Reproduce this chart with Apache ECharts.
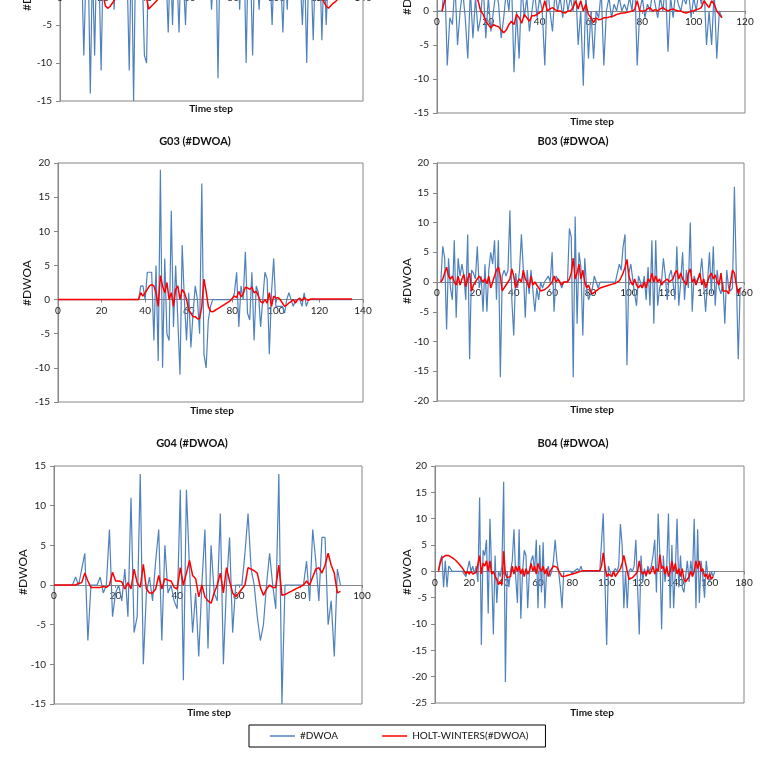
<!DOCTYPE html>
<html>
<head>
<meta charset="utf-8">
<script src="https://cdn.jsdelivr.net/npm/echarts@6/dist/echarts.min.js"></script>
<style>
html,body{margin:0;padding:0;background:#fff;overflow:hidden;width:770px;height:767px;}
#chart{position:absolute;left:0;top:-140px;width:770px;height:907px;}
</style>
</head>
<body>
<div id="chart"></div>
<script>
// ---------- DATA (index = time step) ----------
const seriesNames = ['#DWOA', 'HOLT-WINTERS(#DWOA)'];
const panelTitles = ['G02 (#DWOA)', 'B02 (#DWOA)', 'G03 (#DWOA)', 'B03 (#DWOA)', 'G04 (#DWOA)', 'B04 (#DWOA)'];
const xAxisTitle = 'Time step';
const yAxisTitle = '#DWOA';

// top-left panel (cropped)
const tlBlue = [0,0,0,0,0,0,0,0,0,0,
  3,-9,2,4,-14,3,-9,5,2,-11,
  4,1,3,2,5,-3,4,2,6,3,
  5,2,-11,6,-15,5,3,4,2,-9,
  -10,6,3,1,4,2,5,1,3,2,
  -6,4,-5,5,2,-6,5,1,-5,4,
  3,1,5,2,0,4,2,1,3,4,
  -3,2,6,-12,5,0,2,4,1,3,
  0,2,5,-3,4,6,-10,5,3,-9,
  4,2,-3,3,1,-1,4,2,-5,3,
  2,4,1,-6,3,-3,5,2,1,4,
  3,1,-5,3,-10,4,2,-7,3,2,
  4,-7,3,-5,2,1,0,1,2,1];
const tlRed = [0,0,0,0,0,0,0,0,0,0,
  0.5,-0.5,0.5,0.3,-0.5,0.5,-0.3,1,0.5,-0.5,
  -1.2,-2.5,-2.8,-2.6,-2.2,-1.8,-1,0,1,1.5,
  1,2,0,1,-1,0.5,1,1.5,0.5,-0.5,
  -1.5,-2.9,-2.6,-2.3,-2,-1.7,-1.2,-0.5,0,0.5,
  -0.5,0.5,-0.3,1,0.5,-0.5,0.5,0.3,-0.5,0.5,
  1,0.5,1,1.5,1,0.5,1,0.5,0.8,1,
  0,0.5,1,-1,0.5,0.3,0.5,1,0.5,0.8,
  0.3,0.5,1,0,0.5,1,-1,0.3,0.5,-1,
  0.3,0.5,-0.3,0.5,0.3,0,0.5,0.3,-0.5,0.3,
  0.5,0.8,0.3,-0.8,0,-0.5,0.5,0.3,0.3,0.8,
  0.5,0.3,-0.5,0.3,-1,0,0.3,-0.8,0,-0.3,
  -0.5,-1.5,-2,-2.5,-2.8,-2.5,-2.2,-2,-1.7,-1.2];

// top-right panel (cropped)
const trBlue = [0,0,0,5,-8,-1,-2,4,-5,0,
  3,-1,-7,3,-4,2,-3,-1,4,-4,
  2,-3,0,3,1,-4,-1,3,0,5,
  -9,0,-7,4,-1,2,-3,0,3,-1,
  2,0,-8,4,0,-3,3,0,2,-1,
  3,0,2,0,4,-5,0,-11,3,-7,
  0,-7,0,-1,3,-8,0,2,-1,1,
  0,2,0,1,0,2,0,5,-8,0,
  2,-1,1,0,3,1,-1,2,0,4,
  -6,2,-1,3,1,0,2,1,3,-1,
  2,0,3,1,4,-5,0,-5,3,-7,
  0,-1];
const trRed = [null,null,0,1.5,2.5,3,2.5,3,2.8,2.5,
  3,2.5,2,2.5,2,2.2,1.5,0,-0.5,-1.5,
  -2,-2.5,-2,-2.2,-2.3,-2.8,-3.2,-2.8,-2,-1.5,
  -2,-0.5,-1,-1.8,-0.5,-1,-1.5,-0.7,-0.7,-0.5,
  -0.2,0,1.5,0,0.3,0.5,0.2,0,0,-0.2,
  -0.3,0,0,0.5,1.5,0.3,1.5,0,1,-0.5,
  -1,-1.7,-1,-1.3,-1.2,-1,-1,-0.9,-0.8,-0.7,
  -0.5,-0.4,-0.3,-0.3,-0.2,-0.1,0,0.2,1.5,0,
  0,0,0.3,0.5,0,0.2,0,0.3,0.5,0.2,
  0,0.2,0.3,0.1,0,0,-0.2,-0.3,-0.2,0,
  0,0.2,0.3,0.5,1.5,1,0.5,1.5,1,0,
  -0.5,-1];

// G03
const g03Blue = [0,0,0,0,0,0,0,0,0,0,
  0,0,0,0,0,0,0,0,0,0,
  0,0,0,0,0,0,0,0,0,0,
  0,0,0,0,0,0,0,0,2,2,
  0,4,4,4,-6,5,-9,19,-10,6,
  -5,-6,13,-4,5,-3,-11,8,0,-6,
  1,-7,-2,2,0,-5,17,-8,-10,-3,
  -1,0,0,0,0,0,0,0,0,0,
  0,1,4,-4,2,0,7,-2,-3,4,
  -6,2,1,-4,0,4,3,-8,1,6,
  -1,-1,-1,-1,-2,0,1,0,-1,0,
  0,0,-1,1,-1,0,0,0,0,0,
  0,0,0,0,0,0,0,0,0,0,
  0,0,0,0,0,0];
const g03Red = [0,0,0,0,0,0,0,0,0,0,
  0,0,0,0,0,0,0,0,0,0,
  0,0,0,0,0,0,0,0,0,0,
  0,0,0,0,0,0,0,0,1,0.5,
  1,1.5,2,2.2,2,1,-1,3.5,2,1,
  2.5,0,1,-1,1.5,2,0,1.5,1,0,
  -1.5,-2,-2.5,-2.5,-2.8,-2.8,-1,3,1.2,-1,
  -1.7,-1.8,-1.6,-1.4,-1.2,-1,-0.8,-0.6,-0.4,-0.2,
  0.2,0.5,0.3,1.2,0.4,0.8,1.8,1.7,1.5,1.8,
  1,1.2,0.5,-0.3,-0.5,0,-0.5,1,-1,0.5,
  0.2,0.3,0,-0.5,-1,-0.8,-0.5,-0.3,0,-0.5,
  0,0.2,-0.2,0.3,0,-0.1,0.1,0.1,0.1,0.1,
  0.1,0.1,0.1,0.1,0.1,0.1,0.1,0.1,0.1,0.1,
  0.1,0.1,0.1,0.1,0.1,0.1];

// B03
const b03Blue = [null,null,0,6,4,-8,4,-1,-3,7,
  -6,4,1,3,1,-3,8,-13,2,1.5,
  0.5,6,-1,1,-5,3,-5,2,5,3,
  7,-3,7,-16,1,2,1,2,12,-3,
  -9,1.5,-1,2,8,2,-6,2,-2,2,
  2,-5,-1,-3,0,-1,0,0,1,0,
  5,-5,1,1,0,-1,0,0,0,9,
  7.5,-16,11,-7,5,2.5,-9,4,-1,-3,
  -2,-1,1,0,-1,0,0,0,0,0,
  0,0,0,0,0,3,2,6,8,-14,
  1.5,3,3,-2,-4,1,0,-1,1,-3,
  2.5,-4,7,-7,7,-4,-1,0,4,1,
  -3,1,2,0,-3,6,-4,0,5,-3,
  2,-1,10,-5,1,0,0,1,4,4,
  -5,-5,5,-2,6,-4,2,-1,-2,0,
  -7,2,-1,-1.5,-1,16,1,-13,-1,-1];
const b03Red = [null,null,0,0.5,1.5,2.5,1,0.5,1,0,
  -0.5,1,-0.5,0.5,1.3,-0.8,0.5,1.5,-1.5,-0.5,
  -0.5,0.5,1,0.8,0,0.5,-0.3,1,-1,0,
  1,2,2.5,1,-1.5,-1,-0.5,0,0.5,2.2,
  1,-1,0,0.5,0,2,0.5,0,-1,1,
  -0.5,0,-0.5,-1,-1.5,-1.5,-1.3,-1,-0.8,-0.5,
  0,1,0,0.5,0,-0.5,0,0.2,0,0.5,
  1.5,4,0.5,1.5,3,0.5,2,0,-1,-0.5,
  -1.5,-2,-1.8,-1.5,-1.2,-1,-0.9,-0.8,-0.7,-0.6,
  -0.5,-0.4,-0.3,-0.2,-0.1,0.2,0.8,1.5,2.5,3.8,
  1,0,-0.5,0.5,-0.5,-1,-0.5,-1,0,-1,
  0.5,0,1.5,0,1,0,0.5,-0.5,0,0.2,
  0.5,0,-0.3,0.5,1.5,2,0.5,1.5,0.5,0.2,
  -0.5,1.5,2.2,0,0.5,-0.5,0.5,1.5,-0.5,0.5,
  -1,0,1,1.5,0.5,1.2,0,-0.5,1.5,-1.5,
  -1.8,-1.5,-2,-2,2,1.5,-0.5,-2,-1];

// G04
const g04Blue = [0,0,0,0,0,0,0,1,0,2,
  4,-7,0,0,0,1,-1,0,7,-4,
  -1,0,-2,2,-4,11,-6,-4,14,-10,
  -1,1,-2,3,7,-7,5,-1,0,-2,
  -3,12,-12,12,2,-6,-1,-9,0,7,
  -8,5,-1,-2,9,-10,0,6,-6,0,
  0,0,4,9,2,0,-4,-7,-5,0,
  4,0,-3,14,-15,0,0,0,0,0,
  0,0,3,-2,7,3,-2,6,6,-5,
  -2,-9,2,0];
const g04Red = [0,0,0,0,0,0,0,0,0.2,0.3,
  1.5,0.5,-0.3,-0.3,-0.3,-0.3,-0.2,-0.3,0,1.6,
  0.5,0.5,0.4,-0.5,0.3,-0.5,2,0.3,-0.3,2.6,
  -0.5,-1,-1,-0.5,1.2,-0.5,0.8,0.6,0.5,-0.3,
  -0.5,2.2,0,1.5,3.1,1.2,0.8,-1.5,0,-1.5,
  -2,-2.3,-1,0,1.5,-1,2.2,0.5,-1,-1.5,
  -1,-0.5,0,2.2,2,1.8,1.5,-0.3,-1.3,-0.5,
  0,-0.3,-0.3,2.5,-1.3,-1.2,-1,-0.8,-0.6,-0.4,
  -0.2,0,0.5,0,1,2,2.2,1.5,2.5,4,
  2.5,1.5,-1,-0.8];

// B04
const b04Blue = [null,null,0,2,3,-3,2,-3,1,0.5,
  0,0,0,0,0,0,0,0,-1,0.5,
  2,0,1,-0.5,1,-2,14,-14,4,3,
  6,-8,10,0,-12,3,-6,0,-1,1,
  17,-21,0,-3,0,2,8,-1,-6,8,
  -9,0,4,3,-7,0,2,3,0,6,
  -7,5,-4,5.5,-7,0,1,-1,0,2,
  6,2,0,-3,-7,0,0,0,0,0,
  -0.5,0,0,0.5,0,1,0,0,0,0,
  0,0,0,0,0,0,0,0,11,-2,
  -14,1,1,-1,0,0.5,0,1,9,5,
  -7,0,-7,0,0.5,0,1,6,6,-12,
  3,-2,0.5,-1,1,0,1,3,6,-4,
  11,3,-11,3,-2,1,11,-7,5,-7,
  0,10,-3,3,-3,-4,-4,2,-2,2,
  -1,10,-7,8,-6,2,-1,-5,2,-1,
  -2,0,-1,0];
const b04Red = [null,null,0,1.5,2.5,2.8,3,3.3,3,2.8,
  2.6,2.4,2.1,1.8,1.4,1,0.6,0.3,-0.5,0,
  -0.5,0,-0.5,-0.3,-0.2,-0.3,3,-0.5,1.5,1,
  2,0,2,-0.5,0,-1,-1.5,-2.5,-2,-2.5,
  3.8,-0.5,-1.2,-1.2,-1,1,-0.5,1,0,1,
  -0.5,0.5,-1,0.5,-0.5,0,1.5,0,1,-0.5,
  1.5,0.5,0,1,-0.5,0.5,-1,0,0.5,1,
  1,0.8,0.5,-0.5,-1,-1,-0.9,-0.8,-0.7,-0.6,
  -0.5,-0.4,-0.3,-0.2,-0.1,0,0.1,0.1,0.1,0.1,
  0.1,0.1,0.1,0.1,0.1,0.1,0.1,1,3.5,1,
  -1,-0.5,-0.5,-1,0,-1,-0.5,0,0.5,1.5,
  3,1.5,0,-1.5,-1.5,-1.2,-1,-0.5,0,2,
  0,-0.5,0,-0.8,0.3,-0.5,0,1,-0.5,0.5,
  0,3.2,0.5,1,-0.5,1,-1,0,2,0,
  1.5,-0.5,0.5,-1,0.5,-1.5,-2,-1.5,-1,0,
  -1,0,2,0.5,2,0,0.5,-1,-0.5,-1.5,
  -0.5,-1.5,-1];

// axis ranges per panel
const xMaxs = [140, 120, 140, 160, 100, 180];
const yMins = [-15, -15, -15, -20, -15, -25];
const yMaxs = [15, 20, 20, 20, 15, 20];
const blueSets = [tlBlue, trBlue, g03Blue, b03Blue, g04Blue, b04Blue];
const redSets = [tlRed, trRed, g03Red, b03Red, g04Red, b04Red];

// ---------- LAYOUT (page coords; chart canvas shifted up by OFF) ----------
const OFF = 140;
const grids = [
  {left: 60, top: -127, width: 303, height: 228},
  {left: 437, top: -125, width: 308, height: 238},
  {left: 58, top: 163, width: 305, height: 239},
  {left: 437, top: 163, width: 307, height: 238},
  {left: 54, top: 466, width: 308, height: 238},
  {left: 435, top: 466, width: 309, height: 237}
];
const titlePos = [[211, -160], [591, -150], [195, 141], [573, 141], [192, 443], [573, 443]];
const xNamePos = [[211, 109], [592, 122], [212, 411], [592, 410], [209, 713], [592, 713]];
const yNamePos = [[27, -12], [407, -8], [27, 283], [407, 281], [23, 572], [407, 572]];

const BLUE = '#4F81BD', RED = '#FF0000', AXIS = '#868686';
const FONT = 'Lato, "Liberation Sans", sans-serif';

const toPairs = arr => arr.map((v, i) => [i, v]);

const gridOpts = [], xAxes = [], yAxes = [], series = [], graphics = [];
grids.forEach((g, k) => {
  gridOpts.push({show: true, borderColor: AXIS, borderWidth: 1, backgroundColor: '#fff',
    left: g.left, top: g.top + OFF, width: g.width, height: g.height});
  // distance from the bottom of the plot up to the zero line
  const zeroOffset = g.height * (0 - yMins[k]) / (yMaxs[k] - yMins[k]);
  xAxes.push({
    type: 'value', gridIndex: k, min: 0, max: xMaxs[k], interval: 20,
    position: 'bottom', offset: -zeroOffset,
    axisLine: {show: true, onZero: false, lineStyle: {color: AXIS, width: 1}},
    axisTick: {show: true, length: 3, lineStyle: {color: AXIS}},
    axisLabel: {color: '#222', fontSize: 10, fontFamily: FONT, margin: 6},
    splitLine: {show: false}
  });
  yAxes.push({
    type: 'value', gridIndex: k, min: yMins[k], max: yMaxs[k], interval: 5,
    axisLine: {show: true, onZero: false, lineStyle: {color: AXIS, width: 1}},
    axisTick: {show: true, length: 4, lineStyle: {color: AXIS}},
    axisLabel: {color: '#222', fontSize: 10, fontFamily: FONT, margin: 8},
    splitLine: {show: false}
  });
  series.push({
    name: seriesNames[0], type: 'line', xAxisIndex: k, yAxisIndex: k,
    data: toPairs(blueSets[k]), symbol: 'none', showSymbol: false,
    lineStyle: {color: BLUE, width: 1.2}, itemStyle: {color: BLUE}, z: 2
  });
  series.push({
    name: seriesNames[1], type: 'line', xAxisIndex: k, yAxisIndex: k,
    data: toPairs(redSets[k]), symbol: 'none', showSymbol: false,
    lineStyle: {color: RED, width: 1.5}, itemStyle: {color: RED}, z: 3
  });
  graphics.push({type: 'text', x: titlePos[k][0], y: titlePos[k][1] + OFF,
    style: {text: panelTitles[k], fill: '#111', font: 'bold 11px ' + FONT, textAlign: 'center', textVerticalAlign: 'middle'}});
  graphics.push({type: 'text', x: xNamePos[k][0], y: xNamePos[k][1] + OFF,
    style: {text: xAxisTitle, fill: '#111', font: 'bold 10px ' + FONT, textAlign: 'center', textVerticalAlign: 'middle'}});
  graphics.push({type: 'text', x: yNamePos[k][0], y: yNamePos[k][1] + OFF, rotation: Math.PI / 2,
    style: {text: yAxisTitle, fill: '#111', font: '12px ' + FONT, textAlign: 'center', textVerticalAlign: 'middle'}});
});

const chart = echarts.init(document.getElementById('chart'), null, {renderer: 'canvas'});
chart.setOption({
  animation: false,
  backgroundColor: '#fff',
  grid: gridOpts,
  xAxis: xAxes,
  yAxis: yAxes,
  series: series,
  legend: {
    data: seriesNames.map(n => ({name: n, icon: 'rect'})),
    left: 249, top: 725 + OFF, orient: 'horizontal',
    padding: [6, 17, 6, 21], itemWidth: 25, itemHeight: 1.5, itemGap: 44,
    borderColor: '#000', borderWidth: 1, backgroundColor: '#fff',
    textStyle: {color: '#111', fontSize: 10, fontFamily: FONT}
  },
  graphic: graphics
});
</script>
</body>
</html>
